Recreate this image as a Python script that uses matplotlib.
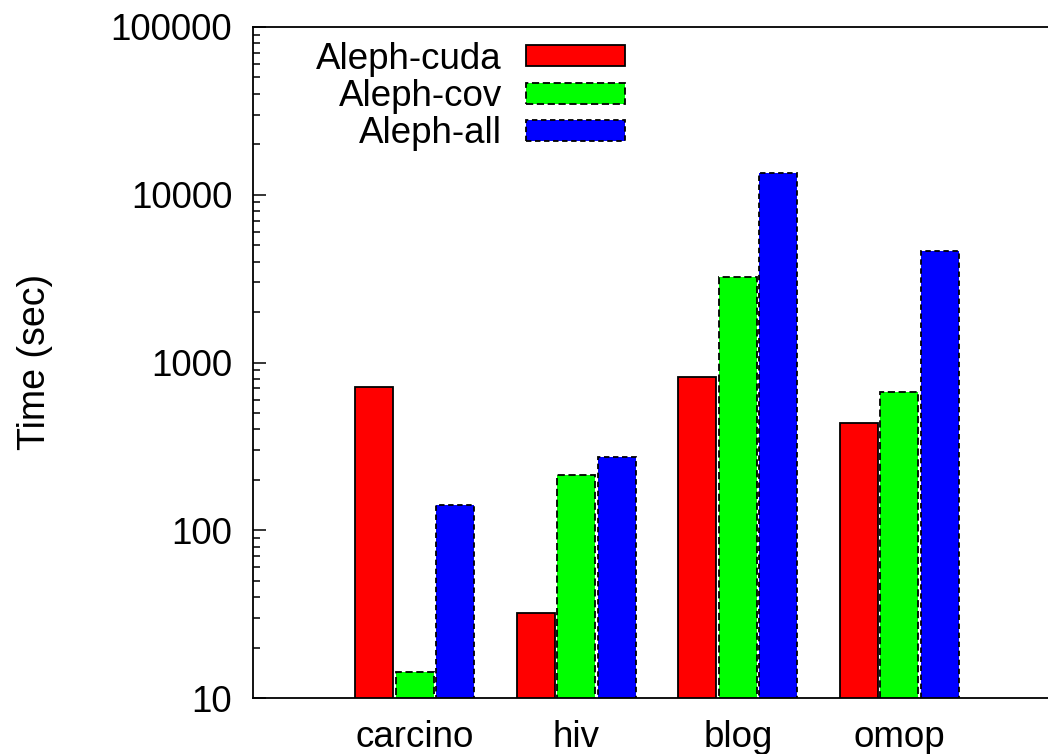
import matplotlib
matplotlib.use("Agg")
import matplotlib.pyplot as plt
import numpy as np
from matplotlib.ticker import LogLocator, NullFormatter, FixedLocator

datasets = ["carcino", "hiv", "blog", "omop"]
series = ["Aleph-cuda", "Aleph-cov", "Aleph-all"]
cuda_times = [714, 32, 818, 436]
cov_times = [14.3, 213, 3236, 667]
all_times = [141, 273, 13490, 4628]
ytick_labels = ["10", "100", "1000", "10000", "100000"]

colors = ["#ff0000", "#00ff00", "#0000ff"]
edge_styles = ["solid", (0, (4, 2)), (0, (3, 2))]

plt.rcParams["font.family"] = ["Liberation Sans", "DejaVu Sans"]
fs = 26.5

fig = plt.figure(figsize=(10.48, 7.54), dpi=100)
ax = fig.add_axes([253 / 1048, 56 / 754, 808 / 1048, 671 / 754])

x = np.arange(len(datasets))
width = 0.235
offsets = [-0.25, 0.0, 0.25]
handles = []
for vals, off, c, ls, name in zip([cuda_times, cov_times, all_times], offsets,
                                  colors, edge_styles, series):
    b = ax.bar(x + off, vals, width, bottom=0, color=c, edgecolor="black",
               linewidth=1.3, linestyle=ls, label=name)
    handles.append(b)

ax.set_yscale("log")
ax.set_ylim(10, 100000)
ax.set_xlim(-1, 4)

ax.yaxis.set_major_locator(FixedLocator([10, 100, 1000, 10000, 100000]))
ax.set_yticklabels(ytick_labels)
ax.yaxis.set_minor_locator(LogLocator(base=10, subs=np.arange(2, 10)))
ax.yaxis.set_minor_formatter(NullFormatter())
ax.tick_params(axis="y", which="major", direction="in", length=9, width=1.1,
               labelsize=fs, pad=15)
ax.tick_params(axis="y", which="minor", direction="in", length=5, width=1.1)

ax.set_xticks(x)
ax.set_xticklabels(datasets)
ax.tick_params(axis="x", length=0, labelsize=fs, pad=16)

for s in ["left", "bottom", "top"]:
    ax.spines[s].set_linewidth(1.3)
ax.spines["right"].set_visible(False)

fig.text(35 / 1048, 1 - 362 / 754, "Time (sec)", rotation=90,
         ha="center", va="center", fontsize=27)

ax.legend(handles=handles, loc="upper right",
          bbox_to_anchor=(625 / 1048, 1 - 42 / 754),
          bbox_transform=fig.transFigure, frameon=False, markerfirst=False,
          fontsize=fs, handlelength=2.7, handleheight=0.5, labelspacing=0.06,
          handletextpad=0.65, borderpad=0, borderaxespad=0)

fig.savefig("out.png", dpi=100)
